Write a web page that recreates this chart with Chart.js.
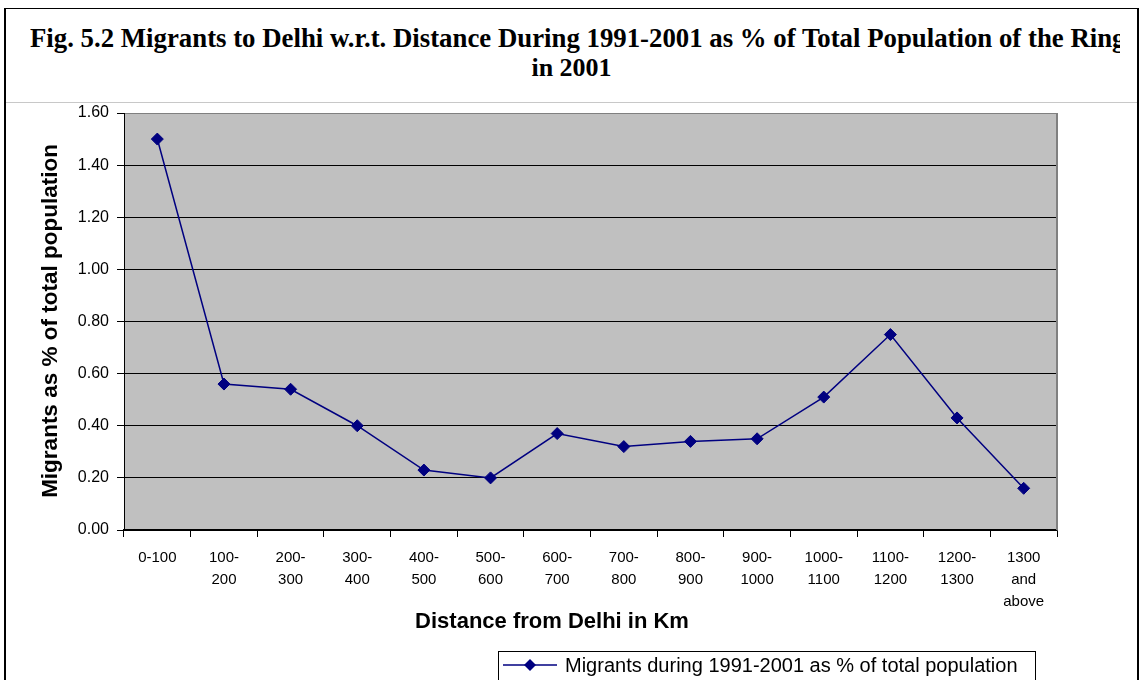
<!DOCTYPE html>
<html>
<head>
<meta charset="utf-8">
<script src="https://cdn.jsdelivr.net/npm/chart.js@4/dist/chart.umd.min.js"></script>
<style>
  html, body { margin:0; padding:0; background:#fff; width:1139px; height:680px; overflow:hidden; }
  #frame { position:absolute; left:4px; top:8px; width:1131px; height:700px; border-left:2px solid #000; border-right:2px solid #000; border-top:1px solid #000; }
  #sep { position:absolute; left:6px; top:102px; width:1131px; height:1px; background:#c8c8c8; }
  .t { position:absolute; font-family:"Liberation Serif","Times New Roman",serif; font-weight:bold; font-size:26px; color:#000; white-space:nowrap; line-height:30px; }
  #t1 { left:30px; top:23px; width:1090px; overflow:hidden; font-size:26.8px; }
  #t2 { left:6px; top:53px; width:1131px; text-align:center; }
  canvas { position:absolute; left:0; top:0; }
</style>
</head>
<body>
<div id="frame"></div>
<div id="sep"></div>
<div class="t" id="t1">Fig. 5.2 Migrants to Delhi w.r.t. Distance During 1991-2001 as % of Total Population of the Ring</div>
<div class="t" id="t2">in 2001</div>
<canvas id="c" width="1139" height="680"></canvas>
<script>
const categories = [
  "0-100", ["100-","200"], ["200-","300"], ["300-","400"], ["400-","500"],
  ["500-","600"], ["600-","700"], ["700-","800"], ["800-","900"], ["900-","1000"],
  ["1000-","1100"], ["1100-","1200"], ["1200-","1300"], ["1300","and","above"]
];
const migrantsPct = [1.50, 0.56, 0.54, 0.40, 0.23, 0.20, 0.37, 0.32, 0.34, 0.35, 0.51, 0.75, 0.43, 0.16];
const seriesLabel = "Migrants during 1991-2001 as % of total population";
const yAxisTitle = "Migrants as % of total population";
const xAxisTitle = "Distance from Delhi in Km";
const yMin = 0, yMax = 1.6, yStep = 0.2;

const NAVY = "#000080";

const decor = {
  id: "decor",
  beforeDraw(chart) {
    const {ctx, chartArea: a} = chart;
    ctx.save();
    ctx.fillStyle = "#C0C0C0";
    ctx.fillRect(a.left, a.top, a.right - a.left, a.bottom - a.top);
    ctx.restore();
  },
  afterDraw(chart) {
    const {ctx, chartArea: a} = chart;
    ctx.save();
    ctx.strokeStyle = "#808080";
    ctx.lineWidth = 2;
    ctx.beginPath();
    ctx.moveTo(a.right, a.top);
    ctx.lineTo(a.right, a.bottom);
    ctx.stroke();
    ctx.fillStyle = "#000";
    ctx.font = "bold 22px 'Liberation Sans', Arial, sans-serif";
    ctx.textAlign = "center";
    ctx.textBaseline = "middle";
    ctx.fillText(xAxisTitle, 552, 622);
    ctx.translate(51, 321);
    ctx.rotate(-Math.PI / 2);
    ctx.font = "bold 22.5px 'Liberation Sans', Arial, sans-serif";
    ctx.fillText(yAxisTitle, 0, 0);
    ctx.restore();
    ctx.save();
    ctx.strokeStyle = "#000";
    ctx.lineWidth = 1;
    ctx.strokeRect(498.5, 651.5, 537, 40);
    ctx.strokeStyle = NAVY;
    ctx.lineWidth = 1.5;
    ctx.beginPath();
    ctx.moveTo(503, 665);
    ctx.lineTo(557, 665);
    ctx.stroke();
    ctx.fillStyle = NAVY;
    ctx.beginPath();
    ctx.moveTo(530, 659); ctx.lineTo(536, 665); ctx.lineTo(530, 671); ctx.lineTo(524, 665);
    ctx.closePath();
    ctx.fill();
    ctx.fillStyle = "#000";
    ctx.font = "20px 'Liberation Sans', Arial, sans-serif";
    ctx.textAlign = "left";
    ctx.textBaseline = "middle";
    ctx.fillText(chart.data.datasets[0].label, 565, 666);
    ctx.restore();
  }
};

new Chart(document.getElementById("c"), {
  type: "line",
  data: {
    labels: categories,
    datasets: [{
      label: seriesLabel,
      data: migrantsPct,
      borderColor: NAVY,
      backgroundColor: NAVY,
      borderWidth: 1.5,
      pointStyle: "rectRot",
      pointRadius: 6,
      pointBorderWidth: 1,
      pointBackgroundColor: NAVY,
      pointBorderColor: NAVY,
      tension: 0,
      fill: false
    }]
  },
  options: {
    responsive: false,
    animation: false,
    devicePixelRatio: 1,
    layout: { padding: { left: 0, top: 113, right: 82, bottom: 0 } },
    plugins: { legend: { display: false }, tooltip: { enabled: false }, title: { display: false } },
    scales: {
      x: {
        type: "category",
        offset: true,
        afterFit(s) { s.height = 150; },
        grid: { offset: true, drawOnChartArea: false, drawTicks: true, tickLength: 7, color: "#000", lineWidth: 1 },
        border: { display: true, color: "#000", width: 1.5 },
        ticks: {
          autoSkip: false, maxRotation: 0, minRotation: 0, padding: 10,
          color: "#000",
          font: { family: "'Liberation Sans', Arial, sans-serif", size: 15, lineHeight: 1.45 }
        }
      },
      y: {
        min: yMin, max: yMax,
        afterFit(s) { s.width = 124; },
        grid: {
          drawTicks: true, tickLength: 7, lineWidth: 1,
          color: (c) => (c.tick && Math.abs(c.tick.value - yMax) < 1e-6) ? "#808080" : "#000",
          tickColor: "#000"
        },
        border: { display: true, color: "#000", width: 1 },
        ticks: {
          stepSize: yStep, padding: 8, color: "#000",
          font: { family: "'Liberation Sans', Arial, sans-serif", size: 16 },
          callback: (v) => Number(v).toFixed(2)
        }
      }
    }
  },
  plugins: [decor]
});
</script>
</body>
</html>
